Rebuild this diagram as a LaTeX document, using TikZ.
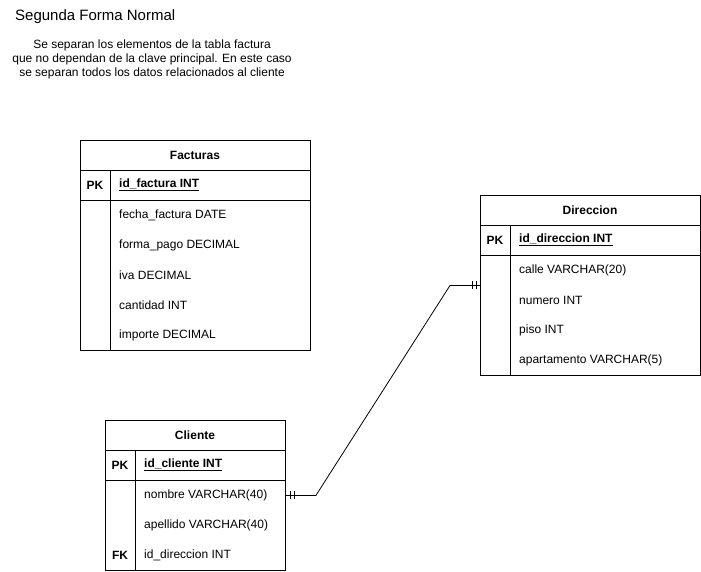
\documentclass[tikz,border=0pt]{standalone}
\usepackage{fontspec}
\setmainfont{Liberation Sans}
\usetikzlibrary{calc}
\begin{document}
\begin{tikzpicture}[x=1pt,y=-1pt,
  tablebox/.style={draw, line width=0.9pt, anchor=north west, inner sep=0pt, fill=white},
  sep/.style={line width=0.9pt},
  hdr/.style={font=\fontsize{12}{14}\selectfont\bfseries, inner sep=0pt},
  keylbl/.style={font=\fontsize{12}{14}\selectfont\bfseries, inner sep=0pt},
  fld/.style={font=\fontsize{12}{14}\selectfont, anchor=west, inner sep=0pt},
  pkfld/.style={font=\fontsize{12}{14}\selectfont\bfseries, anchor=west, inner sep=0pt},
  conn/.style={line width=0.8pt},
  tick/.style={line width=0.8pt}
]
\useasboundingbox (0,0) rectangle (701,571);
% Title and note
\node[anchor=west, inner sep=0pt, font=\fontsize{15}{17}\selectfont] (title) at (15,17) {Segunda Forma Normal};
\node[align=center, inner sep=0pt, font=\fontsize{12}{14}\selectfont] (note) at (152,59.5)
  {Se separan los elementos de la tabla factura\\que no dependan de la clave principal. En este caso\\se separan todos los datos relacionados al cliente};

% Facturas
\node[tablebox, minimum width=230pt, minimum height=210pt] (fact) at (80,140) {};
\draw[sep] (80,170) -- (310,170);
\draw[sep] (80,200) -- (310,200);
\draw[sep] (110,170) -- (110,350);
\node[hdr] (facth) at (195,155) {Facturas};
\node[keylbl] (factpk) at (95,185) {PK};
\node[pkfld] (factid) at (119,185) {\underline{id\_factura INT}};
\node[fld] (fact1) at (119,215) {fecha\_factura DATE};
\node[fld] (fact2) at (119,245) {forma\_pago DECIMAL};
\node[fld] (fact3) at (119,275) {iva DECIMAL};
\node[fld] (fact4) at (119,305) {cantidad INT};
\node[fld] (fact5) at (119,335) {importe DECIMAL};

% Direccion
\node[tablebox, minimum width=220pt, minimum height=180pt] (dir) at (480,195) {};
\draw[sep] (480,225) -- (700,225);
\draw[sep] (480,255) -- (700,255);
\draw[sep] (510,225) -- (510,375);
\node[hdr] (dirh) at (590,210) {Direccion};
\node[keylbl] (dirpk) at (495,240) {PK};
\node[pkfld] (dirid) at (519,240) {\underline{id\_direccion INT}};
\node[fld] (dir1) at (519,270) {calle VARCHAR(20)};
\node[fld] (dir2) at (519,300) {numero INT};
\node[fld] (dir3) at (519,330) {piso INT};
\node[fld] (dir4) at (519,360) {apartamento VARCHAR(5)};

% Cliente
\node[tablebox, minimum width=180pt, minimum height=150pt] (cli) at (105,420) {};
\draw[sep] (105,450) -- (285,450);
\draw[sep] (105,480) -- (285,480);
\draw[sep] (135,450) -- (135,570);
\node[hdr] (clih) at (195,435) {Cliente};
\node[keylbl] (clipk) at (120,465) {PK};
\node[pkfld] (cliid) at (144,465) {\underline{id\_cliente INT}};
\node[fld] (cli1) at (144,495) {nombre VARCHAR(40)};
\node[fld] (cli2) at (144,525) {apellido VARCHAR(40)};
\node[keylbl] (clifk) at (120,555) {FK};
\node[fld] (cli3) at (144,555) {id\_direccion INT};

% Connector (one-to-one, mandatory on both ends)
\draw[conn] (cli.east) -- ++(30,0) -- ($(dir.west)+(-30,0)$) -- (dir.west);
\draw[tick] ($(cli.east)+(4,-4)$) -- ++(0,8);
\draw[tick] ($(cli.east)+(8,-4)$) -- ++(0,8);
\draw[tick] ($(dir.west)+(-4,-4)$) -- ++(0,8);
\draw[tick] ($(dir.west)+(-8,-4)$) -- ++(0,8);
\end{tikzpicture}
\end{document}
